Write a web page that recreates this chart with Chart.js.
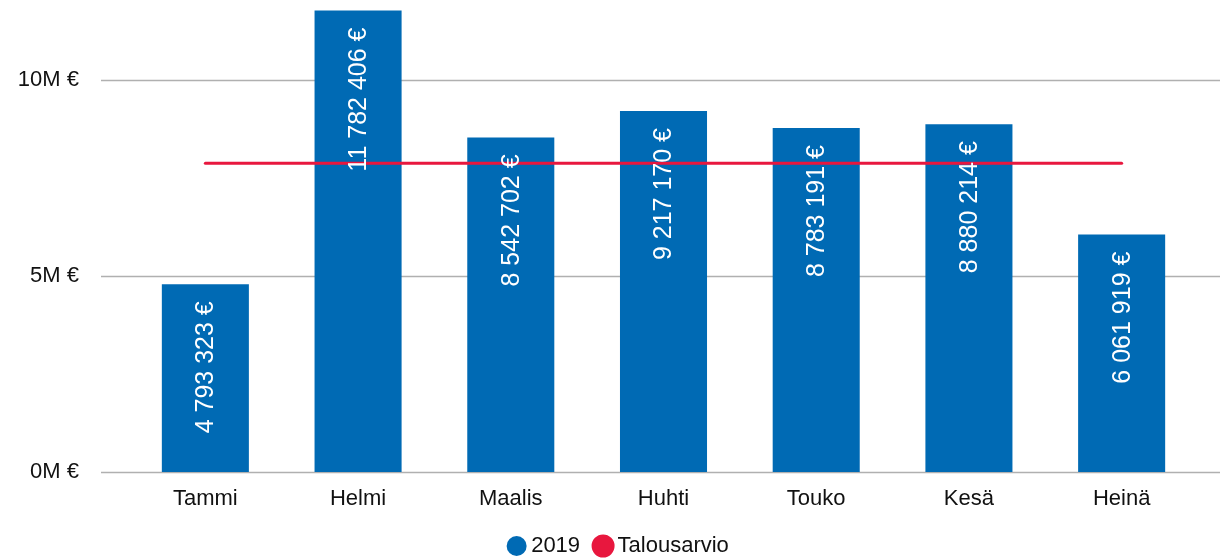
<!DOCTYPE html>
<html>
<head>
<meta charset="utf-8">
<script src="https://cdn.jsdelivr.net/npm/chart.js@4"></script>
<style>
html,body{margin:0;padding:0;background:#fff;}
#wrap{width:1220px;height:558px;position:relative;}
</style>
</head>
<body>
<div id="wrap"><canvas id="c" width="1220" height="558"></canvas></div>
<script>
const categories = ['Tammi','Helmi','Maalis','Huhti','Touko','Kesä','Heinä'];
const values2019 = [4793323, 11782406, 8542702, 9217170, 8783191, 8880214, 6061919];
const budgetValue = 7880000;
const budgetSeries = categories.map(() => budgetValue);
const yTicks = [0, 5000000, 10000000];

const BLUE = '#006ab4';
const RED = '#e8173e';
const FONT = 'Liberation Sans, Arial, sans-serif';

function fmt(v){
  return String(Math.round(v)).replace(/\B(?=(\d{3})+(?!\d))/g, ' ') + ' €';
}

const gridPlugin = {
  id: 'fullGrid',
  beforeDatasetsDraw(chart){
    const ctx = chart.ctx, y = chart.scales.y, a = chart.chartArea;
    ctx.save();
    ctx.strokeStyle = '#b0b0b0';
    ctx.lineWidth = 1.5;
    yTicks.forEach(t => {
      const py = Math.round(y.getPixelForValue(t)) + 0.5;
      ctx.beginPath();
      ctx.moveTo(a.left - 28, py);
      ctx.lineTo(chart.width, py);
      ctx.stroke();
    });
    ctx.restore();
  }
};

const labelPlugin = {
  id: 'barLabels',
  afterDatasetsDraw(chart){
    const ctx = chart.ctx;
    const meta = chart.getDatasetMeta(0);
    ctx.save();
    ctx.fillStyle = '#ffffff';
    ctx.font = '25px ' + FONT;
    ctx.textAlign = 'right';
    ctx.textBaseline = 'middle';
    meta.data.forEach((bar, i) => {
      ctx.save();
      ctx.translate(bar.x + 1, bar.y + 17);
      ctx.rotate(-Math.PI/2);
      ctx.fillText(fmt(values2019[i]), 0, 0);
      ctx.restore();
    });
    ctx.restore();
  }
};

const legendShift = {
  id: 'legendShift',
  afterLayout(chart){
    if (chart.legend) chart.legend.left += 44;
  }
};

new Chart(document.getElementById('c'), {
  data: {
    labels: categories,
    datasets: [
      {
        type: 'bar',
        label: '2019',
        data: values2019,
        backgroundColor: BLUE,
        borderWidth: 0,
        barPercentage: 0.57,
        categoryPercentage: 1.0,
        order: 1
      },
      {
        type: 'line',
        label: 'Talousarvio',
        data: budgetSeries,
        borderColor: RED,
        backgroundColor: RED,
        borderWidth: 3,
        pointRadius: 0,
        borderCapStyle: 'round',
        order: 0
      }
    ]
  },
  options: {
    responsive: false,
    animation: false,
    layout: { padding: { top: 2, right: 22, left: 0, bottom: 0 } },
    scales: {
      x: {
        grid: { display: false, drawTicks: false },
        border: { display: false },
        afterFit(scale){ scale.height = 43.5; },
        ticks: { color: '#111', font: { family: FONT, size: 22 }, padding: 14 }
      },
      y: {
        min: 0,
        max: 12000000,
        grid: { display: false, drawTicks: false },
        border: { display: false },
        afterFit(scale){ scale.width = 129; scale.paddingTop = 0; scale.paddingBottom = 0; },
        afterBuildTicks(scale){ scale.ticks = yTicks.map(v => ({ value: v })); },
        ticks: {
          color: '#111',
          font: { family: FONT, size: 22 },
          padding: 50,
          callback: v => (v / 1000000) + 'M €'
        }
      }
    },
    plugins: {
      legend: {
        position: 'bottom',
        maxHeight: 42.5,
        labels: {
          usePointStyle: true,
          pointStyle: 'circle',
          boxWidth: 7,
          boxHeight: 14.14,
          color: '#111',
          font: { family: FONT, size: 22 },
          padding: 19.5,
          sort: (a, b) => a.datasetIndex - b.datasetIndex
        }
      },
      tooltip: { enabled: false }
    }
  },
  plugins: [gridPlugin, labelPlugin, legendShift]
});
</script>
</body>
</html>
